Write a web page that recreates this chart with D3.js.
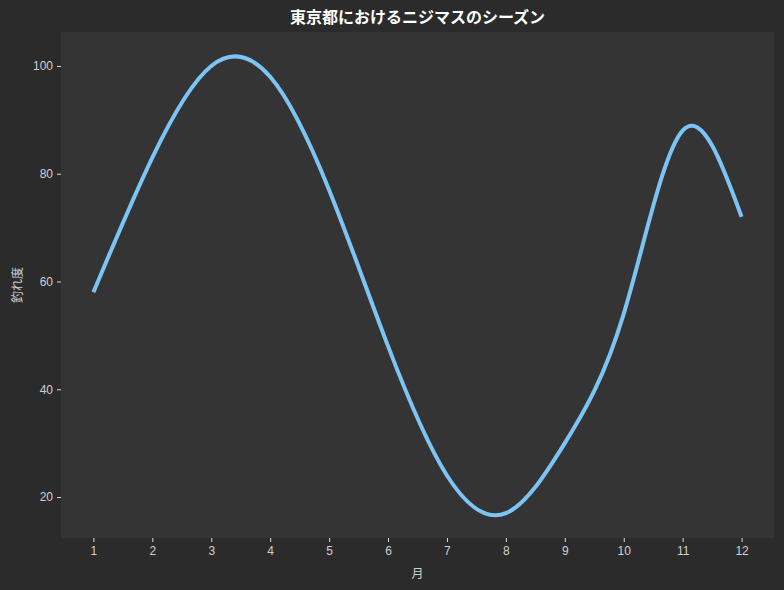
<!DOCTYPE html>
<html>
<head>
<meta charset="utf-8">
<script src="https://cdn.jsdelivr.net/npm/d3@7"></script>
<style>
  body { margin: 0; background: #2b2b2b; }
  svg { display: block; font-family: "Noto Sans CJK JP", "Noto Sans", sans-serif; }
</style>
</head>
<body>
<script>
const MONTHS = [1, 2, 3, 4, 5, 6, 7, 8, 9, 10, 11, 12];
const SCORES = [58, 83, 100, 98, 77, 48, 24, 17, 30, 54, 88, 72];
const Y_TICKS = [20, 40, 60, 80, 100];

const W = 784, H = 590;
const MARGIN = { top: 32, right: 10, bottom: 52, left: 61 };

const svg = d3.select("body").append("svg")
  .attr("width", W)
  .attr("height", H);

svg.append("rect").attr("width", W).attr("height", H).attr("fill", "#2b2b2b");

const x = d3.scaleLinear()
  .domain([0.45, 12.55])
  .range([MARGIN.left, W - MARGIN.right]);

const y = d3.scaleLinear()
  .domain([12.4, 106.3])
  .range([H - MARGIN.bottom, MARGIN.top]);

svg.append("rect")
  .attr("x", MARGIN.left)
  .attr("y", MARGIN.top)
  .attr("width", W - MARGIN.left - MARGIN.right)
  .attr("height", H - MARGIN.top - MARGIN.bottom)
  .attr("fill", "#343434");

const line = d3.line()
  .x((d, i) => x(MONTHS[i]))
  .y(d => y(d))
  .curve(d3.curveNatural);

svg.append("path")
  .datum(SCORES)
  .attr("d", line)
  .attr("fill", "none")
  .attr("stroke", "#7cc4f4")
  .attr("stroke-width", 4)
  .attr("stroke-linecap", "butt");

const xAxis = svg.append("g")
  .attr("transform", "translate(0," + (H - MARGIN.bottom) + ")")
  .call(d3.axisBottom(x).tickValues(MONTHS).tickFormat(d3.format("d")).tickSize(4).tickPadding(4));

const yAxis = svg.append("g")
  .attr("transform", "translate(" + MARGIN.left + ",0)")
  .call(d3.axisLeft(y).tickValues(Y_TICKS).tickSize(4).tickPadding(4));

[xAxis, yAxis].forEach(g => {
  g.select(".domain").remove();
  g.selectAll("line").attr("stroke", "#dddddd");
  g.selectAll("text").attr("fill", "#d0d0d0").attr("font-size", 12);
});

svg.append("text")
  .attr("x", (MARGIN.left + W - MARGIN.right) / 2)
  .attr("y", 23)
  .attr("text-anchor", "middle")
  .attr("fill", "#ffffff")
  .attr("font-size", 16)
  .attr("font-weight", "bold")
  .text("東京都におけるニジマスのシーズン");

svg.append("text")
  .attr("x", (MARGIN.left + W - MARGIN.right) / 2)
  .attr("y", 578)
  .attr("text-anchor", "middle")
  .attr("fill", "#d0d0d0")
  .attr("font-size", 12)
  .text("月");

svg.append("text")
  .attr("transform", "translate(22," + ((MARGIN.top + H - MARGIN.bottom) / 2) + ") rotate(-90)")
  .attr("text-anchor", "middle")
  .attr("fill", "#d0d0d0")
  .attr("font-size", 12)
  .text("釣れ度");
</script>
</body>
</html>
